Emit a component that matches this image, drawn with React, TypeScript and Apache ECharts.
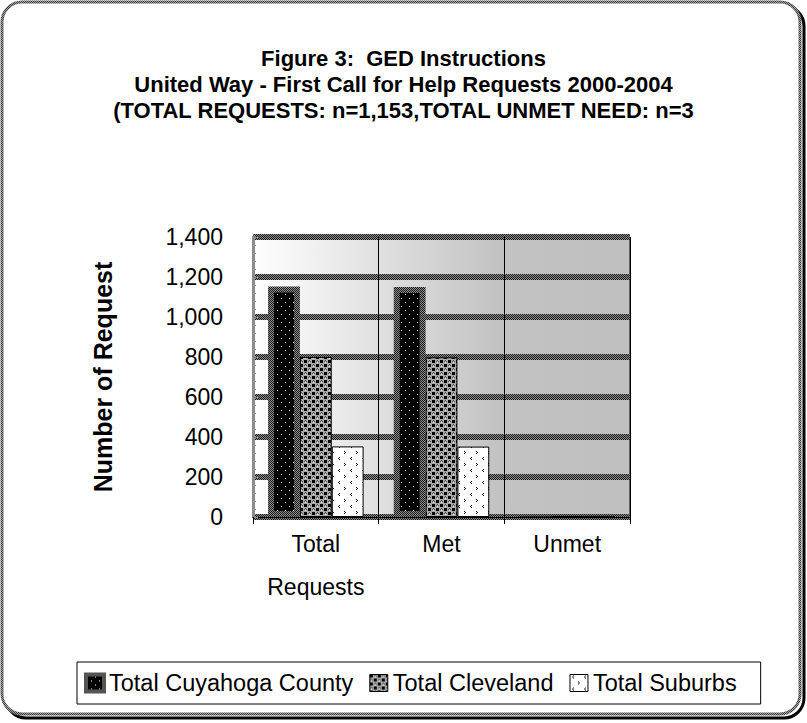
import React, { useEffect, useRef } from "react";
import * as echarts from "echarts";

const titleLines = [
  "Figure 3:  GED Instructions",
  "United Way - First Call for Help Requests 2000-2004",
  "(TOTAL REQUESTS: n=1,153,TOTAL UNMET NEED: n=3",
];
const categories = ["Total\nRequests", "Met", "Unmet"];
const seriesNames = ["Total Cuyahoga County", "Total Cleveland", "Total Suburbs"];
const cuyahoga = [1153, 1150, 3];
const cleveland = [800, 798, 2];
const suburbs = [353, 352, 1];
const yTicks = [0, 200, 400, 600, 800, 1000, 1200, 1400];
const yAxisTitle = "Number of Request";

const FONT = "'Liberation Sans', Arial, sans-serif";

function tile(w: number, h: number, draw: (ctx: CanvasRenderingContext2D) => void) {
  const c = document.createElement("canvas");
  c.width = w;
  c.height = h;
  const ctx = c.getContext("2d")!;
  draw(ctx);
  return { image: c.toDataURL(), repeat: "repeat", imageWidth: w, imageHeight: h } as any;
}

function px(ctx: CanvasRenderingContext2D, color: string, pts: number[][]) {
  ctx.fillStyle = color;
  pts.forEach(([x, y]) => ctx.fillRect(x, y, 1, 1));
}

export default function App() {
  const ref = useRef<HTMLDivElement>(null);
  useEffect(() => {
    if (!ref.current) return;
    const chart = echarts.init(ref.current, undefined, { renderer: "svg" });

    const hatch = tile(2, 2, (ctx) => {
      ctx.fillStyle = "#8c8c8c";
      ctx.fillRect(0, 0, 2, 2);
      px(ctx, "#1c1c1c", [[0, 0], [1, 1]]);
    });
    const frameHatch = tile(2, 2, (ctx) => {
      ctx.fillStyle = "#a0a0a0";
      ctx.fillRect(0, 0, 2, 2);
      px(ctx, "#404040", [[0, 0], [1, 1]]);
    });
    const blackDots = tile(8, 8, (ctx) => {
      ctx.fillStyle = "#000";
      ctx.fillRect(0, 0, 8, 8);
      px(ctx, "#ffffff", [[1, 2], [5, 6]]);
    });
    const checker = tile(8, 8, (ctx) => {
      ctx.fillStyle = "#a8a8a8";
      ctx.fillRect(0, 0, 8, 8);
      ctx.fillStyle = "#000";
      ctx.fillRect(0, 0, 3, 3);
      ctx.fillRect(4, 4, 3, 3);
      px(ctx, "#555555", [[4, 1], [5, 0], [6, 1], [0, 5], [1, 4], [2, 5]]);
      px(ctx, "#e8e8e8", [[5, 2], [1, 6]]);
    });
    const marks = tile(12, 12, (ctx) => {
      ctx.fillStyle = "#fff";
      ctx.fillRect(0, 0, 12, 12);
      px(ctx, "#111", [[3, 1], [2, 2], [3, 3], [8, 7], [9, 8], [8, 9]]);
    });

    const legendStyles = [
      { borderColor: hatch, borderWidth: 4 },
      { borderColor: "#000", borderWidth: 1 },
      { borderColor: "#000", borderWidth: 1 },
    ];

    chart.setOption({
      animation: false,
      backgroundColor: "#ffffff",
      title: {
        text: titleLines.join("\n"),
        left: "center",
        top: 45,
        padding: 0,
        textStyle: {
          fontFamily: FONT,
          fontWeight: "bold",
          fontSize: 22,
          lineHeight: 26,
          color: "#000",
        },
      },
      graphic: [
        {
          type: "rect",
          z: -20,
          silent: true,
          shape: { x: 6, y: 6, width: 798, height: 712, r: 20 },
          style: { fill: "none", stroke: "#000", lineWidth: 3 },
        },
        {
          type: "rect",
          z: -19,
          silent: true,
          shape: { x: 2, y: 2, width: 798, height: 712, r: 20 },
          style: { fill: "#fff", stroke: frameHatch, lineWidth: 3 },
        },
      ],
      legend: {
        left: 77,
        top: 662,
        orient: "horizontal",
        borderColor: "#000",
        borderWidth: 1,
        borderRadius: 0,
        padding: [9, 24, 9, 7],
        itemGap: 16,
        itemWidth: 18,
        itemHeight: 17,
        icon: "rect",
        textStyle: {
          fontFamily: FONT,
          fontSize: 23.5,
          color: "#000",
        },
        data: seriesNames.map((n, i) => ({ name: n, itemStyle: legendStyles[i] })),
      },
      grid: {
        left: 253,
        right: 177,
        top: 237,
        bottom: 206,
        show: true,
        borderWidth: 1,
        borderColor: "#000",
        backgroundColor: new echarts.graphic.LinearGradient(0, 0, 1, 0, [
          { offset: 0, color: "#ffffff" },
          { offset: 0.66, color: "#c2c2c2" },
          { offset: 1, color: "#c0c0c0" },
        ]),
      },
      xAxis: {
        type: "category",
        data: categories,
        axisLine: { show: true, lineStyle: { color: "#000", width: 1 } },
        axisTick: { show: true, length: 7, interval: 0, lineStyle: { color: "#000" } },
        splitLine: { show: true, interval: 0, lineStyle: { color: "#000", width: 1 } },
        axisLabel: {
          interval: 0,
          fontFamily: FONT,
          fontSize: 23,
          lineHeight: 43,
          color: "#000",
          margin: 5,
        },
      },
      yAxis: {
        type: "value",
        min: yTicks[0],
        max: yTicks[yTicks.length - 1],
        interval: 200,
        name: yAxisTitle,
        nameLocation: "middle",
        nameRotate: 90,
        nameGap: 138,
        nameTextStyle: {
          fontFamily: FONT,
          fontWeight: "bold",
          fontSize: 25,
          color: "#000",
        },
        axisLine: { show: true, lineStyle: { color: "#8c8c8c", width: 3 } },
        axisTick: { show: true, inside: true, length: 5, lineStyle: { color: "#8c8c8c" } },
        minorTick: { show: true, splitNumber: 5, length: 3, lineStyle: { color: "#9a9a9a" } },
        splitLine: { show: true, lineStyle: { color: hatch, width: 6 } },
        axisLabel: {
          fontFamily: FONT,
          fontSize: 23,
          color: "#000",
          margin: 30,
          formatter: (v: number) => v.toLocaleString("en-US"),
        },
      },
      series: [
        {
          name: seriesNames[0],
          type: "bar",
          barGap: "0%",
          barCategoryGap: "24%",
          data: cuyahoga.map((v) => (v < 20 ? { value: v, itemStyle: { borderWidth: 0 } } : v)),
          itemStyle: { color: blackDots, borderColor: hatch, borderWidth: 6 },
        },
        {
          name: seriesNames[1],
          type: "bar",
          data: cleveland,
          itemStyle: { color: checker, borderColor: "#000", borderWidth: 1 },
        },
        {
          name: seriesNames[2],
          type: "bar",
          data: suburbs,
          itemStyle: { color: marks, borderColor: "#000", borderWidth: 1 },
        },
      ],
    });
    return () => chart.dispose();
  }, []);
  return <div ref={ref} style={{ width: 807, height: 723, position: "absolute", left: 0, top: 0 }} />;
}
